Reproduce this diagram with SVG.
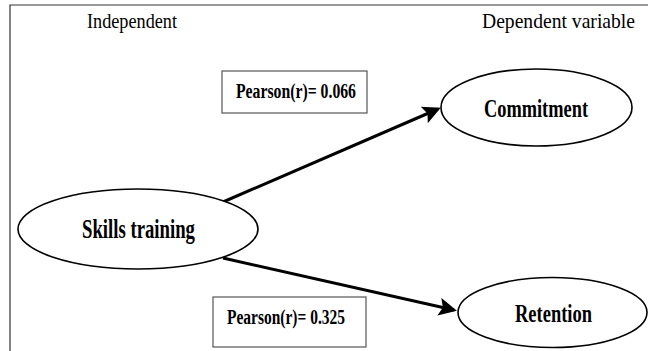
<svg xmlns="http://www.w3.org/2000/svg" width="648" height="351" viewBox="0 0 648 351">
<style>
.node ellipse{fill:#fff;stroke:#000;stroke-width:1.6}
.box rect{fill:#fff;stroke:#555;stroke-width:1.2}
.t{font-family:"Liberation Serif","Times New Roman",serif;fill:#000}
.b{font-weight:bold}
.edge{stroke:#000;stroke-width:3;fill:none}
</style>
<defs>
<marker id="ah" markerWidth="6" markerHeight="6" refX="5" refY="3" orient="auto" markerUnits="strokeWidth">
<path d="M0,0 L6,3 L0,6 L1.2,3 z" fill="#000"/>
</marker>
</defs>
<rect width="648" height="351" fill="#fff"/>
<path d="M10,351 V5 H648" fill="none" stroke="#333" stroke-width="1.2"/>
<text class="t" x="87" y="28" font-size="21" textLength="90" lengthAdjust="spacingAndGlyphs">Independent</text>
<text class="t" x="482" y="28" font-size="21" textLength="153" lengthAdjust="spacingAndGlyphs">Dependent variable</text>
<g id="connectors">
<line class="edge" x1="223" y1="202" x2="438" y2="109" marker-end="url(#ah)"/>
<line class="edge" x1="223" y1="258" x2="454" y2="310" marker-end="url(#ah)"/>
</g>
<g id="label1" class="box">
<rect x="222" y="71" width="145" height="42"/>
<text class="t b" x="236" y="98" font-size="20" textLength="120" lengthAdjust="spacingAndGlyphs">Pearson(r)= 0.066</text>
</g>
<g id="label2" class="box">
<rect x="213" y="297" width="153" height="50"/>
<text class="t b" x="227" y="324" font-size="20" textLength="118" lengthAdjust="spacingAndGlyphs">Pearson(r)= 0.325</text>
</g>
<g id="skills" class="node">
<ellipse cx="138" cy="229" rx="120" ry="40"/>
<text class="t b" x="82" y="238" font-size="27" textLength="113" lengthAdjust="spacingAndGlyphs">Skills training</text>
</g>
<g id="commitment" class="node">
<ellipse cx="536.5" cy="107.5" rx="95.5" ry="38.5"/>
<text class="t b" x="484" y="117" font-size="25" textLength="104" lengthAdjust="spacingAndGlyphs">Commitment</text>
</g>
<g id="retention" class="node">
<ellipse cx="552.5" cy="312.5" rx="94.5" ry="35"/>
<text class="t b" x="515" y="322" font-size="25" textLength="77" lengthAdjust="spacingAndGlyphs">Retention</text>
</g>
</svg>
